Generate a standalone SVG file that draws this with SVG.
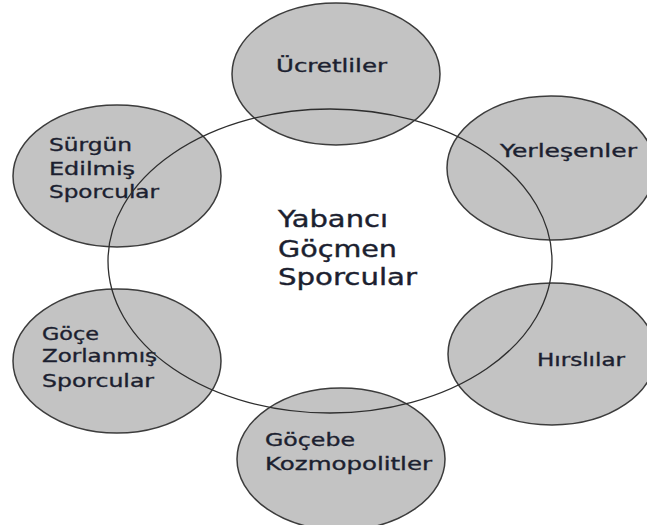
<svg xmlns="http://www.w3.org/2000/svg" width="647" height="525" viewBox="0 0 647 525">
<style>
.bg{fill:#ffffff}
.node{fill:#c3c3c3;stroke:#3c3c3c;stroke-width:1.5}
.ring{fill:none;stroke:#2e2e2e;stroke-width:1.3}
.t{font-family:"DejaVu Sans","Liberation Sans",sans-serif;font-size:17px;fill:#1c1f30;stroke:#1c1f30;stroke-width:0.35}
.c{font-family:"DejaVu Sans","Liberation Sans",sans-serif;font-size:23px;fill:#1c1f30;stroke:#1c1f30;stroke-width:0.4}
</style>
<rect class="bg" x="0" y="0" width="647" height="525"/>
<g id="connectors">
<ellipse class="bg" cx="330" cy="261" rx="222" ry="152"/>
</g>
<g id="node-ucretliler">
<ellipse class="node" cx="336" cy="74" rx="104" ry="71"/>
<text class="t" x="276" y="72" textLength="111" lengthAdjust="spacingAndGlyphs">Ücretliler</text>
</g>
<g id="node-surgun">
<ellipse class="node" cx="117" cy="176" rx="104" ry="71"/>
<text class="t" x="49" y="151" textLength="83" lengthAdjust="spacingAndGlyphs">Sürgün</text>
<text class="t" x="49" y="175" textLength="86" lengthAdjust="spacingAndGlyphs">Edilmiş</text>
<text class="t" x="49" y="198" textLength="110" lengthAdjust="spacingAndGlyphs">Sporcular</text>
</g>
<g id="node-yerlesenler">
<ellipse class="node" cx="551" cy="168" rx="104" ry="72"/>
<text class="t" x="500" y="157" textLength="137" lengthAdjust="spacingAndGlyphs">Yerleşenler</text>
</g>
<g id="node-goce">
<ellipse class="node" cx="117" cy="361" rx="104" ry="72"/>
<text class="t" x="42" y="340" textLength="57" lengthAdjust="spacingAndGlyphs">Göçe</text>
<text class="t" x="42" y="362" textLength="115" lengthAdjust="spacingAndGlyphs">Zorlanmış</text>
<text class="t" x="42" y="387" textLength="112" lengthAdjust="spacingAndGlyphs">Sporcular</text>
</g>
<g id="node-hirslilar">
<ellipse class="node" cx="552" cy="354" rx="104" ry="71"/>
<text class="t" x="537" y="366" textLength="88" lengthAdjust="spacingAndGlyphs">Hırslılar</text>
</g>
<g id="node-gocebe">
<ellipse class="node" cx="341" cy="459" rx="104" ry="71"/>
<text class="t" x="265" y="446" textLength="90" lengthAdjust="spacingAndGlyphs">Göçebe</text>
<text class="t" x="265" y="470" textLength="167" lengthAdjust="spacingAndGlyphs">Kozmopolitler</text>
</g>
<g id="node-center">
<ellipse class="ring" cx="330" cy="261" rx="222" ry="152"/>
<text class="c" x="278" y="227" textLength="110" lengthAdjust="spacingAndGlyphs">Yabancı</text>
<text class="c" x="278" y="257" textLength="119" lengthAdjust="spacingAndGlyphs">Göçmen</text>
<text class="c" x="278" y="285" textLength="139" lengthAdjust="spacingAndGlyphs">Sporcular</text>
</g>
</svg>
